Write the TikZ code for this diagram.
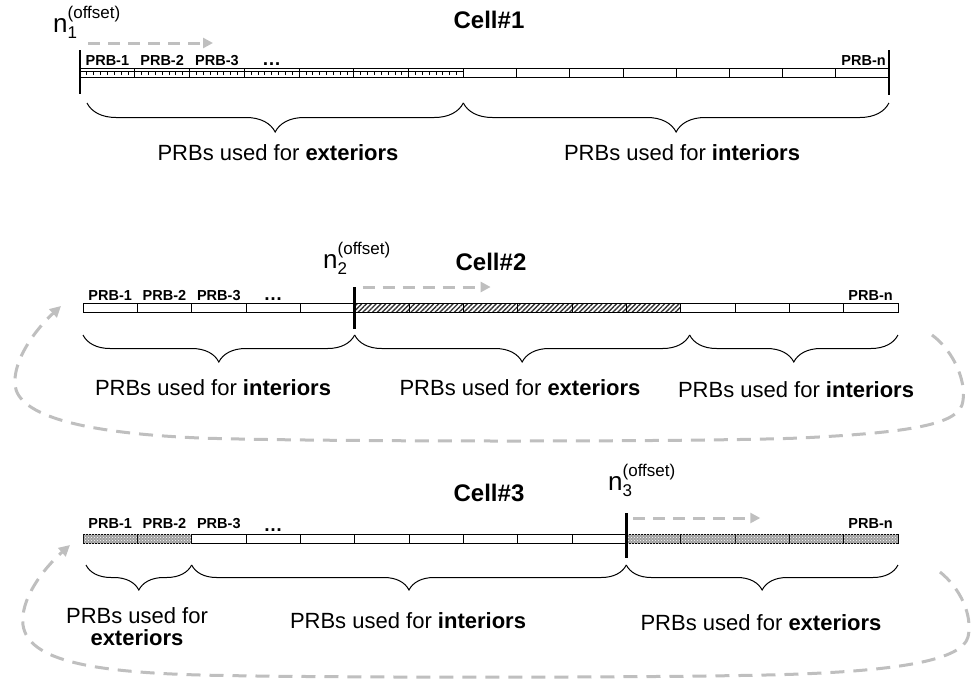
\documentclass[tikz,border=0pt]{standalone}
\usepackage{fontspec}
\setmainfont{Liberation Sans}
\usetikzlibrary{arrows.meta,decorations.pathreplacing,patterns,patterns.meta}

\newcommand{\noffset}[1]{n\rlap{\raisebox{-6pt}{\fontsize{17}{17}\selectfont #1}}\raisebox{14pt}{\fontsize{17}{17}\selectfont (offset)}}
\newcommand{\usedfor}[1]{PRBs used for \textbf{#1}}

\begin{document}
\begin{tikzpicture}[x=1pt,y=-1pt,
  seg/.style={draw,line width=0.8pt,minimum height=9pt,inner sep=0pt,outer sep=0pt,anchor=north west},
  diag/.style={pattern={Lines[angle=45,distance=3.4pt,line width=1.4pt]},pattern color=black!80},
  dots/.style={fill=gray!75,postaction={pattern=crosshatch dots,pattern color=white}},
  crenel/.style={line width=0.7pt},
  offsetbar/.style={line width=2.6pt},
  offarrow/.style={draw=lightgray,line width=3pt,dash pattern=on 12pt off 8pt,-{Triangle[length=10pt,width=10pt]}},
  loopback/.style={draw=lightgray,line width=3pt,dash pattern=on 14pt off 9pt,-{Triangle[length=11pt,width=11pt]}},
  curly/.style={decorate,decoration={brace,mirror,amplitude=#1},line width=1pt},
  prb/.style={font=\bfseries\fontsize{14.5}{14.5}\selectfont,inner sep=0pt,anchor=base},
  celltitle/.style={font=\bfseries\fontsize{24}{24}\selectfont,inner sep=0pt,anchor=base},
  offlabel/.style={font=\fontsize{26}{26}\selectfont,inner sep=0pt,anchor=base west},
  usedlabel/.style={font=\fontsize{22}{22}\selectfont,inner sep=0pt,anchor=base,align=center}]
  \useasboundingbox (0,0) rectangle (971,680);

  % Cell#1
  \foreach \i in {0,...,6}
    \node[seg,minimum width=54.76pt] (ca\i) at ({80+\i*54.76},68) {};
  \foreach \i in {7,...,14}
    \node[seg,minimum width=53.2pt] (ca\i) at ({463.3+(\i-7)*53.2},68) {};
  \foreach \i in {0,...,6} {
    \draw[crenel] ([shift={(0,3.5)}]ca\i.north west) -- ([shift={(0,3.5)}]ca\i.north east);
    \foreach \k in {1,...,7}
      \draw[crenel] ([shift={({\k*54.76/8},3.5)}]ca\i.north west) -- ++(0,3);
  }
  \draw[offsetbar] ([shift={(0,-18)}]ca0.north west) -- ([shift={(0,17)}]ca0.south west);
  \draw[offsetbar] ([shift={(0,-18)}]ca14.north east) -- ([shift={(0,18)}]ca14.south east);
  \draw[offarrow] ([shift={(8,-25)}]ca0.north west) -- ++(125,0);
  \node[offlabel] (n1) at (53,32) {\noffset{1}};
  \node[celltitle] (cell1) at (489,28) {Cell\#1};
  \node[prb] at ([shift={(0,-3)}]ca0.north) {PRB-1};
  \node[prb] at ([shift={(0,-3)}]ca1.north) {PRB-2};
  \node[prb] at ([shift={(0,-3)}]ca2.north) {PRB-3};
  \node[prb,font=\bfseries\fontsize{19}{19}\selectfont] at ([shift={(0,-3)}]ca3.north) {…};
  \node[prb,anchor=base east] at ([shift={(-3,-3)}]ca14.north east) {PRB-n};
  \draw[curly=29pt] ([shift={(7,26)}]ca0.south west) -- ([shift={(0,26)}]ca6.south east);
  \draw[curly=29pt] ([shift={(0,26)}]ca6.south east) -- ([shift={(0,26)}]ca14.south east);
  \node[usedlabel] (u1a) at (278,160) {\usedfor{exteriors}};
  \node[usedlabel] (u1b) at (682,160) {\usedfor{interiors}};

  % Cell#2
  \foreach \i in {0,...,14}
    \node[seg,minimum width=54.33pt] (cb\i) at ({83+\i*54.33},303) {};
  \foreach \i in {5,...,10}
    \node[seg,diag,minimum width=54.33pt] at ({83+\i*54.33},303) {};
  \draw[offsetbar] ([shift={(0,-16)}]cb5.north west) -- ([shift={(0,17)}]cb5.south west);
  \draw[offarrow] ([shift={(8,-16)}]cb5.north west) -- ++(128,0);
  \node[offlabel] (n2) at (323,268) {\noffset{2}};
  \node[celltitle] (cell2) at (491,270) {Cell\#2};
  \node[prb] at ([shift={(0,-3)}]cb0.north) {PRB-1};
  \node[prb] at ([shift={(0,-3)}]cb1.north) {PRB-2};
  \node[prb] at ([shift={(0,-3)}]cb2.north) {PRB-3};
  \node[prb,font=\bfseries\fontsize{19}{19}\selectfont] at ([shift={(0,-3)}]cb3.north) {…};
  \node[prb,anchor=base east] at ([shift={(-5,-3)}]cb14.north east) {PRB-n};
  \draw[curly=27pt] ([shift={(0,23)}]cb0.south west) -- ([shift={(0,23)}]cb4.south east);
  \draw[curly=27pt] ([shift={(0,23)}]cb4.south east) -- ([shift={(9,23)}]cb10.south east);
  \draw[curly=27pt] ([shift={(9,23)}]cb10.south east) -- ([shift={(0,23)}]cb14.south east);
  \node[usedlabel] (u2a) at (213,395) {\usedfor{interiors}};
  \node[usedlabel] (u2b) at (520,395) {\usedfor{exteriors}};
  \node[usedlabel] (u2c) at (796,397) {\usedfor{interiors}};
  \draw[loopback] (932,335) .. controls (955,352) and (968,385) .. (962,405)
    .. controls (955,426) and (900,433) .. (800,438)
    .. controls (700,442) and (320,442) .. (200,438)
    .. controls (80,433) and (18,415) .. (15,385)
    .. controls (13,360) and (35,330) .. (61,306);

  % Cell#3
  \foreach \i in {0,...,14}
    \node[seg,minimum width=54.33pt] (cc\i) at ({83+\i*54.33},534) {};
  \foreach \i in {0,1,10,11,12,13,14}
    \node[seg,dots,minimum width=54.33pt] at ({83+\i*54.33},534) {};
  \draw[offsetbar] ([shift={(0,-21)}]cc10.north west) -- ([shift={(0,15)}]cc10.south west);
  \draw[offarrow] ([shift={(7,-16)}]cc10.north west) -- ++(127,0);
  \node[offlabel] (n3) at (608,490) {\noffset{3}};
  \node[celltitle] (cell3) at (489,501) {Cell\#3};
  \node[prb] at ([shift={(0,-6)}]cc0.north) {PRB-1};
  \node[prb] at ([shift={(0,-6)}]cc1.north) {PRB-2};
  \node[prb] at ([shift={(0,-6)}]cc2.north) {PRB-3};
  \node[prb,font=\bfseries\fontsize{19}{19}\selectfont] at ([shift={(0,-3)}]cc3.north) {…};
  \node[prb,anchor=base east] at ([shift={(-5,-6)}]cc14.north east) {PRB-n};
  \draw[curly=25pt] ([shift={(3,22)}]cc0.south west) -- ([shift={(0,22)}]cc1.south east);
  \draw[curly=25pt] ([shift={(0,22)}]cc1.south east) -- ([shift={(0,22)}]cc9.south east);
  \draw[curly=25pt] ([shift={(0,22)}]cc9.south east) -- ([shift={(0,22)}]cc14.south east);
  \node[usedlabel] (u3a) at (137,645) {PRBs used for\\\textbf{exteriors}};
  \node[usedlabel] (u3b) at (408,628) {\usedfor{interiors}};
  \node[usedlabel] (u3c) at (761,630) {\usedfor{exteriors}};
  \draw[loopback] (940,572) .. controls (960,588) and (973,615) .. (968,637)
    .. controls (962,660) and (900,670) .. (800,674)
    .. controls (700,678) and (320,678) .. (200,675)
    .. controls (90,672) and (28,660) .. (23,625)
    .. controls (20,600) and (42,570) .. (70,545);
\end{tikzpicture}
\end{document}
